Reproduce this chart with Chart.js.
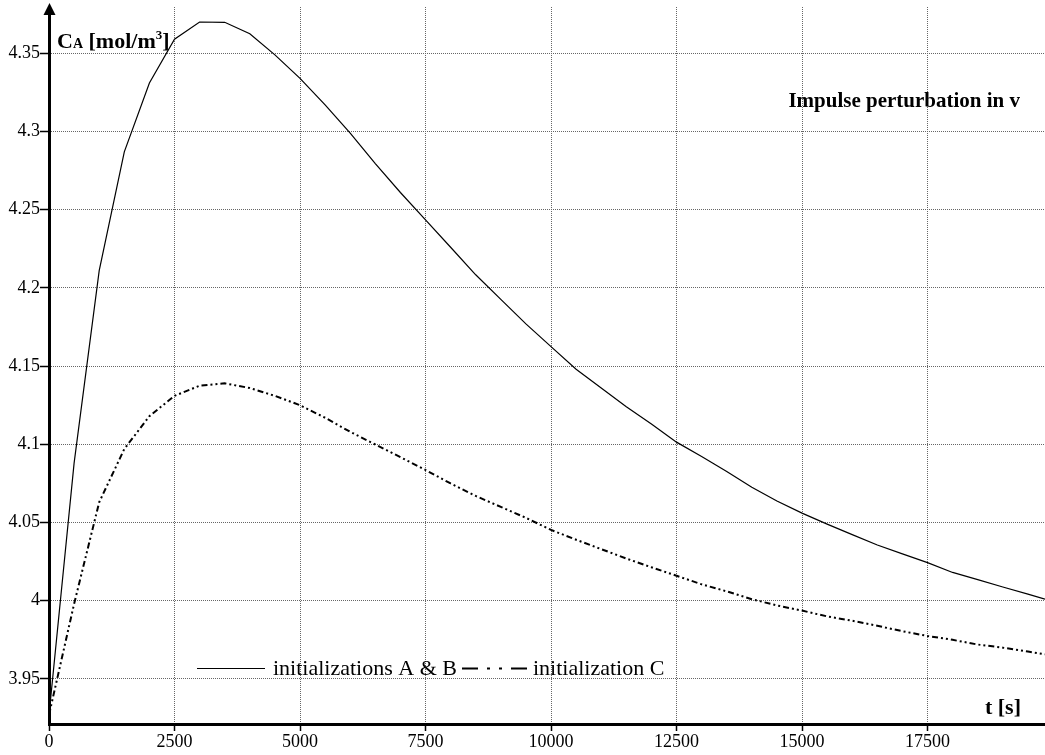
<!DOCTYPE html>
<html>
<head>
<meta charset="utf-8">
<script src="https://cdn.jsdelivr.net/npm/chart.js@4.4.1/dist/chart.umd.min.js"></script>
<style>
    html, body { margin: 0; padding: 0; background: #fff; }
    #wrap { width: 1045px; height: 755px; position: relative; }
</style>
</head>
<body>
<div id="wrap"><canvas id="chart"></canvas></div>
<script>
// time axis [s]
const times = [0, 500, 1000, 1500, 2000, 2500, 3000, 3500, 4000, 4500,
    5000, 5500, 6000, 6500, 7000, 7500, 8000, 8500, 9000, 9500,
    10000, 10500, 11000, 11500, 12000, 12500, 13000, 13500, 14000, 14500,
    15000, 15500, 16000, 16500, 17000, 17500, 18000, 18500, 19000, 19500, 19840];

// C_A, initializations A & B (solid)
const caAB = [3.927, 4.088, 4.211, 4.287, 4.331, 4.359, 4.370, 4.3698, 4.3625, 4.349,
    4.334, 4.317, 4.299, 4.2795, 4.261, 4.2435, 4.226, 4.2084, 4.1927, 4.177,
    4.1625, 4.148, 4.136, 4.124, 4.113, 4.1014, 4.0922, 4.0827, 4.0725, 4.0638,
    4.056, 4.049, 4.0423, 4.0356, 4.030, 4.0244, 4.0181, 4.0135, 4.0088, 4.0042, 4.001];

// C_A, initialization C (dash-dot-dot)
const caC = [3.927, 3.998, 4.063, 4.097, 4.118, 4.131, 4.1375, 4.139, 4.136, 4.131,
    4.125, 4.117, 4.108, 4.0999, 4.0918, 4.0836, 4.075, 4.067, 4.060, 4.053,
    4.0453, 4.039, 4.033, 4.027, 4.0214, 4.016, 4.0105, 4.006, 4.001, 3.997,
    3.9937, 3.990, 3.9872, 3.984, 3.9805, 3.9775, 3.975, 3.972, 3.970, 3.9675, 3.9658];

const xTicks = [0, 2500, 5000, 7500, 10000, 12500, 15000, 17500];
const yTicks = [3.95, 4, 4.05, 4.1, 4.15, 4.2, 4.25, 4.3, 4.35];
const seriesNames = ['initializations A & B', 'initialization C'];
const chartTitle = 'Impulse perturbation in v';

const SERIF = '"Liberation Serif", "Times New Roman", serif';
const DASH_DOT = [6, 3, 2, 3, 2, 3];

// 제목, 축 이름, 화살표, 범례를 캔버스에 직접 그림
const decorations = {
    id: 'decorations',
    afterDraw(chart) {
        const { ctx, chartArea: area } = chart;
        ctx.save();
        ctx.fillStyle = '#000';
        ctx.strokeStyle = '#000';

        // y axis arrow head
        ctx.beginPath();
        ctx.moveTo(area.left + 0.5, 3);
        ctx.lineTo(area.left - 5.5, 15);
        ctx.lineTo(area.left + 6.5, 15);
        ctx.closePath();
        ctx.fill();

        // y axis name: C_A [mol/m^3]
        ctx.textAlign = 'left';
        ctx.textBaseline = 'alphabetic';
        let x = 57;
        const y = 48;
        const put = (text, font, dy) => {
            ctx.font = font;
            ctx.fillText(text, x, y + (dy || 0));
            x += ctx.measureText(text).width;
        };
        put('C', 'bold 22px ' + SERIF);
        put('A', 'bold 14px ' + SERIF);
        put(' [mol/m', 'bold 22px ' + SERIF);
        put('3', 'bold 13px ' + SERIF, -9);
        put(']', 'bold 22px ' + SERIF);

        // x axis name
        ctx.textAlign = 'right';
        ctx.font = 'bold 22px ' + SERIF;
        ctx.fillText('t [s]', 1021, 714);

        // title
        ctx.font = 'bold 21px ' + SERIF;
        ctx.fillText(chartTitle, 1020, 107);

        // legend
        ctx.textAlign = 'left';
        ctx.font = '22px ' + SERIF;
        const ly = 668.5;
        ctx.lineWidth = 1;
        ctx.setLineDash([]);
        ctx.beginPath();
        ctx.moveTo(197, ly);
        ctx.lineTo(265, ly);
        ctx.stroke();
        ctx.fillText(seriesNames[0], 273, 675);

        ctx.lineWidth = 2;
        ctx.setLineDash([16, 9, 3, 9, 3, 9, 16]);
        ctx.beginPath();
        ctx.moveTo(462, ly);
        ctx.lineTo(527, ly);
        ctx.stroke();
        ctx.setLineDash([]);
        ctx.fillText(seriesNames[1], 533, 675);

        ctx.restore();
    }
};

const toPoints = values => times.map((t, i) => ({ x: t, y: values[i] }));

new Chart(document.getElementById('chart'), {
    type: 'line',
    data: {
        datasets: [
            {
                label: seriesNames[0],
                data: toPoints(caAB),
                borderColor: '#000',
                borderWidth: 1.2,
                pointRadius: 0,
                tension: 0
            },
            {
                label: seriesNames[1],
                data: toPoints(caC),
                borderColor: '#000',
                borderWidth: 2,
                borderDash: DASH_DOT,
                pointRadius: 0,
                tension: 0
            }
        ]
    },
    options: {
        responsive: true,
        maintainAspectRatio: false,
        animation: false,
        devicePixelRatio: 1,
        layout: { padding: { top: 7, right: 0, left: 0, bottom: 0 } },
        plugins: {
            legend: { display: false },
            tooltip: { enabled: false }
        },
        scales: {
            x: {
                type: 'linear',
                min: 0,
                max: 19840,
                afterBuildTicks: scale => { scale.ticks = xTicks.map(v => ({ value: v })); },
                afterFit: scale => {
                    scale.height = 31;
                    scale.paddingLeft = 0;
                    scale.paddingRight = 0;
                },
                grid: {
                    color: '#666',
                    lineWidth: 1,
                    tickLength: 7,
                    tickColor: '#000',
                    tickWidth: 1.5
                },
                border: { display: true, color: '#000', width: 3, dash: [1, 1] },
                ticks: {
                    autoSkip: false,
                    maxRotation: 0,
                    padding: 0,
                    color: '#000',
                    font: { family: SERIF, size: 18 },
                    callback: v => String(v)
                }
            },
            y: {
                type: 'linear',
                min: 3.9212,
                max: 4.3796,
                afterBuildTicks: scale => { scale.ticks = yTicks.map(v => ({ value: v })); },
                afterFit: scale => {
                    scale.width = 49;
                    scale.paddingTop = 0;
                    scale.paddingBottom = 0;
                },
                grid: {
                    color: '#666',
                    lineWidth: 1,
                    tickLength: 9,
                    tickColor: '#000',
                    tickWidth: 1.5
                },
                border: { display: true, color: '#000', width: 3, dash: [1, 1] },
                ticks: {
                    padding: 0,
                    color: '#000',
                    font: { family: SERIF, size: 18 },
                    callback: v => String(+v.toFixed(2))
                }
            }
        }
    },
    plugins: [decorations]
});
</script>
</body>
</html>
